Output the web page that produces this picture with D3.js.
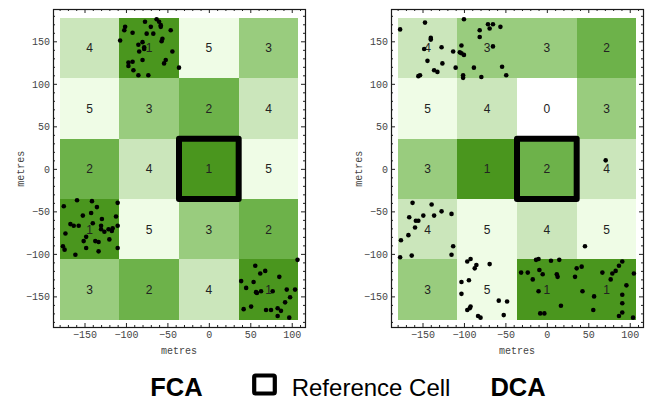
<!DOCTYPE html>
<html>
<head>
<meta charset="utf-8">
<script src="https://cdn.jsdelivr.net/npm/d3@7"></script>
<style>
  body { margin: 0; background: #fff; }
  svg { display: block; }
</style>
</head>
<body>
<svg id="chart" width="647" height="401"></svg>
<script>
// Grid of cells (centres in metres) around the reference cell at (0, 0)
const columnCentres = [-144, -72, 0, 72];
const rowCentres = [142, 71, 0, -71, -142];
const cellWidth = 72;
const cellHeight = 71;

// Rank of each cell, rows listed north to south
const fcaRanks = [
  [4, 1, 5, 3],
  [5, 3, 2, 4],
  [2, 4, 1, 5],
  [1, 5, 3, 2],
  [3, 2, 4, 1]
];
const dcaRanks = [
  [4, 3, 3, 2],
  [5, 4, 0, 3],
  [3, 1, 2, 4],
  [4, 5, 4, 5],
  [3, 5, 1, 1]
];

// Observed positions [east, north] in metres
const fcaPoints = [
  [-101,167],[-102,163],[-107,151],[-92,160],[-77,173],[-70,167],[-63,176],[-60,173],
  [-58,169],[-58,167],[-46,163],[-75,159],[-67,159],[-56,153],[-57,150],[-80,149],
  [-85,146],[-78,143],[-78,141],[-84,138],[-44,138],[-80,128],[-52,128],[-54,124],
  [-97,125],[-92,126],[-97,121],[-91,116],[-36,119],[-85,110],[-73,110],
  [-159,-37],[-141,-38],[-175,-44],[-135,-45],[-110,-40],[-152,-55],[-142,-52],[-129,-59],
  [-112,-56],[-167,-65],[-163,-67],[-157,-67],[-140,-64],[-130,-67],[-130,-71],[-126,-74],
  [-121,-71],[-117,-73],[-116,-70],[-110,-67],[-173,-76],[-148,-80],[-151,-85],[-137,-85],
  [-133,-86],[-120,-83],[-176,-91],[-174,-95],[-148,-93],[-133,-97],[-110,-93],[-161,-101],
  [107,-107],[56,-114],[68,-120],[62,-123],[85,-127],[39,-132],[54,-133],[45,-140],
  [57,-145],[58,-146],[63,-144],[77,-144],[94,-142],[104,-142],[98,-151],[92,-157],
  [51,-162],[42,-165],[69,-166],[75,-166],[83,-164],[87,-167],[83,-173],[97,-175]
];
const dcaPoints = [
  [-177,164],[-147,172],[-100,176],[-71,170],[-65,170],[-56,167],[-81,163],[-69,165],
  [-81,155],[-140,154],[-140,152],[-103,145],[-65,144],[-127,143],[-148,141],[-113,138],
  [-105,137],[-103,136],[-100,134],[-144,127],[-126,124],[-110,119],[-88,119],[-54,120],
  [-136,116],[-132,114],[-49,110],[-153,110],[-155,109],[-101,110],[-101,107],[-79,108],
  [71,10],
  [-162,-40],[-139,-42],[-166,-57],[-158,-61],[-155,-61],[-149,-55],[-136,-55],[-127,-50],
  [-115,-53],[-159,-69],[-167,-78],[-176,-84],[-113,-91],[-177,-104],[-163,-102],[-115,-101],
  [46,-91],
  [-96,-109],[-92,-106],[-85,-113],[-87,-117],[-69,-112],[-103,-133],[-94,-131],[-103,-147],
  [-58,-155],[-48,-156],[-96,-166],[-93,-164],[-92,-162],[-83,-173],[-80,-175],[-52,-172],
  [-13,-107],[-10,-106],[5,-108],[15,-107],[-31,-122],[-23,-122],[-9,-119],[-5,-124],
  [-17,-130],[12,-124],[13,-127],[36,-117],[42,-115],[34,-127],[-10,-144],[43,-144],
  [67,-122],[79,-123],[83,-120],[87,-114],[91,-109],[77,-130],[96,-137],[105,-123],
  [17,-161],[57,-150],[91,-148],[91,-158],[-8,-170],[-3,-170],[56,-166],[91,-169],
  [87,-173],[104,-175]
];

const xTicks = [-150, -100, -50, 0, 50, 100];
const yTicks = [-150, -100, -50, 0, 50, 100, 150];
const xDomain = [-188, 116];
const yDomain = [-186, 188];

// Fill for ranks 0..5
const rankColours = ["#ffffff", "#4a961e", "#6db24a", "#99cc7e", "#cbe6bb", "#effce6"];

const panels = [
  { title: "FCA", ranks: fcaRanks, points: fcaPoints, left: 53 },
  { title: "DCA", ranks: dcaRanks, points: dcaPoints, left: 391 }
];

const svg = d3.select("#chart");
const frameTop = 9, frameWidth = 252, frameHeight = 318;
const tickFont = "'Liberation Mono', 'Courier New', monospace";

function styleAxis(g) {
  g.select(".domain").remove();
  g.selectAll("line").attr("stroke", "#222").attr("stroke-width", 1);
  g.selectAll("text")
    .attr("font-family", tickFont)
    .attr("font-size", 10)
    .attr("fill", "#444");
}

panels.forEach(p => {
  const x = d3.scaleLinear().domain(xDomain).range([p.left, p.left + frameWidth]);
  const y = d3.scaleLinear().domain(yDomain).range([frameTop + frameHeight, frameTop]);
  const g = svg.append("g");

  // cells
  const cells = [];
  p.ranks.forEach((row, r) => row.forEach((rank, c) => {
    cells.push({ cx: columnCentres[c], cy: rowCentres[r], rank });
  }));
  g.selectAll("rect.cell").data(cells).join("rect")
    .attr("class", "cell")
    .attr("x", d => x(d.cx - cellWidth / 2))
    .attr("y", d => y(d.cy + cellHeight / 2))
    .attr("width", d => x(d.cx + cellWidth / 2) - x(d.cx - cellWidth / 2))
    .attr("height", d => y(d.cy - cellHeight / 2) - y(d.cy + cellHeight / 2))
    .attr("fill", d => rankColours[d.rank])
    .attr("shape-rendering", "crispEdges");

  g.selectAll("text.rank").data(cells).join("text")
    .attr("class", "rank")
    .attr("x", d => x(d.cx))
    .attr("y", d => y(d.cy))
    .attr("dy", "0.36em")
    .attr("text-anchor", "middle")
    .attr("font-family", "'Liberation Sans', Arial, sans-serif")
    .attr("font-size", 12)
    .attr("fill", "#222")
    .text(d => d.rank);

  // reference cell outline
  g.append("rect")
    .attr("x", x(-cellWidth / 2))
    .attr("y", y(cellHeight / 2))
    .attr("width", x(cellWidth / 2) - x(-cellWidth / 2))
    .attr("height", y(-cellHeight / 2) - y(cellHeight / 2))
    .attr("fill", "none")
    .attr("stroke", "#000")
    .attr("stroke-width", 6)
    .attr("stroke-linejoin", "round");

  // points
  g.selectAll("circle").data(p.points).join("circle")
    .attr("cx", d => x(d[0]))
    .attr("cy", d => y(d[1]))
    .attr("r", 2.3)
    .attr("fill", "#000");

  // frame ticks (inward), major and minor on all sides
  const xMinor = d3.range(-180, 120, 10).filter(v => v % 50 !== 0);
  const yMinor = d3.range(-180, 190, 10).filter(v => v % 50 !== 0);
  const bottom = frameTop + frameHeight, right = p.left + frameWidth;

  g.append("g").attr("transform", `translate(0,${bottom})`)
    .call(d3.axisBottom(x).tickValues(xTicks).tickSize(-4).tickPadding(4))
    .call(styleAxis);
  g.append("g").attr("transform", `translate(0,${bottom})`)
    .call(d3.axisBottom(x).tickValues(xMinor).tickSize(-2).tickFormat(""))
    .call(styleAxis);
  g.append("g").attr("transform", `translate(0,${frameTop})`)
    .call(d3.axisTop(x).tickValues(xTicks).tickSize(-4).tickFormat(""))
    .call(styleAxis);
  g.append("g").attr("transform", `translate(0,${frameTop})`)
    .call(d3.axisTop(x).tickValues(xMinor).tickSize(-2).tickFormat(""))
    .call(styleAxis);
  g.append("g").attr("transform", `translate(${p.left},0)`)
    .call(d3.axisLeft(y).tickValues(yTicks).tickSize(-4).tickPadding(3))
    .call(styleAxis);
  g.append("g").attr("transform", `translate(${p.left},0)`)
    .call(d3.axisLeft(y).tickValues(yMinor).tickSize(-2).tickFormat(""))
    .call(styleAxis);
  g.append("g").attr("transform", `translate(${right},0)`)
    .call(d3.axisRight(y).tickValues(yTicks).tickSize(-4).tickFormat(""))
    .call(styleAxis);
  g.append("g").attr("transform", `translate(${right},0)`)
    .call(d3.axisRight(y).tickValues(yMinor).tickSize(-2).tickFormat(""))
    .call(styleAxis);

  // frame
  g.append("rect")
    .attr("x", p.left + 0.5).attr("y", frameTop + 0.5)
    .attr("width", frameWidth).attr("height", frameHeight)
    .attr("fill", "none").attr("stroke", "#1a1a1a").attr("stroke-width", 1.2);

  // axis titles
  g.append("text")
    .attr("x", p.left + frameWidth / 2)
    .attr("y", 354)
    .attr("text-anchor", "middle")
    .attr("font-family", tickFont).attr("font-size", 10).attr("fill", "#444")
    .text("metres");
  g.append("text")
    .attr("transform", `translate(${p.left - 33},${y(0)}) rotate(-90)`)
    .attr("text-anchor", "middle")
    .attr("dy", "0.35em")
    .attr("font-family", tickFont).attr("font-size", 10).attr("fill", "#444")
    .text("metres");
});

// legend row
const legend = svg.append("g").attr("font-family", "'Liberation Sans', Arial, sans-serif");
legend.append("text").attr("x", 176.5).attr("y", 395.5).attr("text-anchor", "middle")
  .attr("font-size", 25.5).attr("font-weight", "bold").attr("fill", "#000").text("FCA");
legend.append("rect").attr("x", 254.2).attr("y", 375.5).attr("width", 20.6).attr("height", 18)
  .attr("rx", 1.5).attr("fill", "none").attr("stroke", "#000").attr("stroke-width", 4.2);
legend.append("text").attr("x", 291.7).attr("y", 395.5)
  .attr("font-size", 24).attr("fill", "#000").text("Reference Cell");
legend.append("text").attr("x", 518).attr("y", 395.5).attr("text-anchor", "middle")
  .attr("font-size", 25.5).attr("font-weight", "bold").attr("fill", "#000").text("DCA");
</script>
</body>
</html>
